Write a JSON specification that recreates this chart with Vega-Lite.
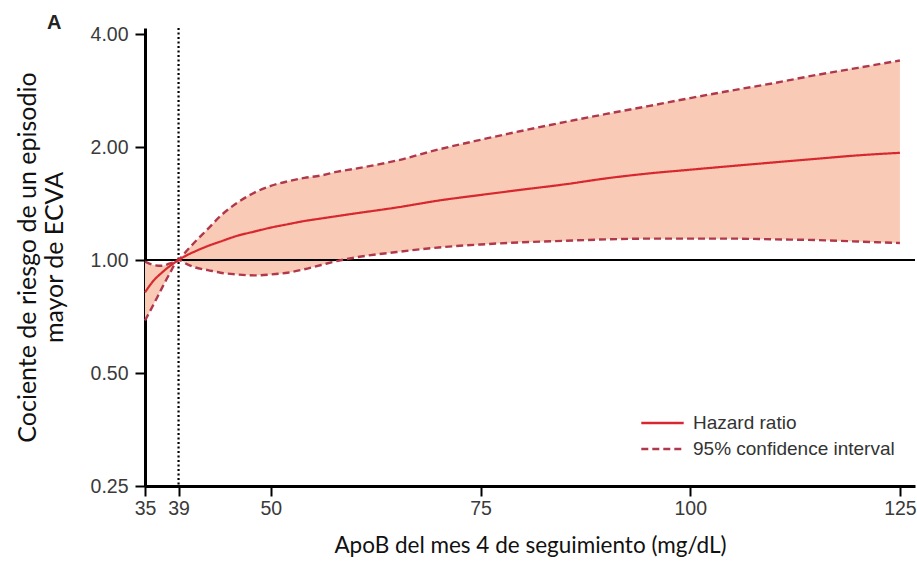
{
  "$schema": "https://vega.github.io/schema/vega-lite/v6.json",
  "width": 770,
  "height": 458,
  "autosize": {"type": "none"},
  "padding": {"left": 145, "top": 28, "right": 2, "bottom": 75},
  "background": "white",
  "title": {"text": "A", "anchor": "start", "frame": "group", "dx": -98, "offset": -9, "fontSize": 20, "fontWeight": "bold", "font": "Liberation Sans", "color": "#222222"},
  "config": {
    "view": {"stroke": null},
    "axis": {"grid": false, "domainColor": "black", "domainWidth": 3, "tickColor": "black", "tickWidth": 2, "tickSize": 10, "labelFont": "Liberation Sans", "labelFontSize": 19.5, "labelColor": "#3a3a3a", "titleFont": "Lato", "titleFontSize": 22.5, "titleFontWeight": "normal", "titleColor": "#111111", "labelFlush": false, "labelOverlap": false}
  },
  "datasets": {
    "curve": [
      {"x": 35, "hr": 0.82, "lo": 0.69, "hi": 0.99},
      {"x": 36, "hr": 0.88, "lo": 0.76, "hi": 0.97},
      {"x": 37, "hr": 0.925, "lo": 0.84, "hi": 0.965},
      {"x": 38, "hr": 0.965, "lo": 0.925, "hi": 0.98},
      {"x": 39, "hr": 1.0, "lo": 1.0, "hi": 1.0},
      {"x": 40, "hr": 1.03, "lo": 0.975, "hi": 1.06},
      {"x": 41, "hr": 1.055, "lo": 0.955, "hi": 1.12},
      {"x": 42.5, "hr": 1.09, "lo": 0.94, "hi": 1.21},
      {"x": 44, "hr": 1.12, "lo": 0.925, "hi": 1.31},
      {"x": 46, "hr": 1.16, "lo": 0.915, "hi": 1.42},
      {"x": 48, "hr": 1.19, "lo": 0.91, "hi": 1.51},
      {"x": 50, "hr": 1.22, "lo": 0.915, "hi": 1.575},
      {"x": 52, "hr": 1.245, "lo": 0.925, "hi": 1.62},
      {"x": 54, "hr": 1.27, "lo": 0.945, "hi": 1.655},
      {"x": 56, "hr": 1.29, "lo": 0.97, "hi": 1.68},
      {"x": 58, "hr": 1.31, "lo": 0.995, "hi": 1.72},
      {"x": 60, "hr": 1.33, "lo": 1.015, "hi": 1.75},
      {"x": 65, "hr": 1.38, "lo": 1.05, "hi": 1.84},
      {"x": 70, "hr": 1.44, "lo": 1.08, "hi": 1.97},
      {"x": 75, "hr": 1.49, "lo": 1.10, "hi": 2.09},
      {"x": 80, "hr": 1.54, "lo": 1.115, "hi": 2.21},
      {"x": 85, "hr": 1.59, "lo": 1.125, "hi": 2.33},
      {"x": 90, "hr": 1.65, "lo": 1.135, "hi": 2.45},
      {"x": 95, "hr": 1.70, "lo": 1.14, "hi": 2.57},
      {"x": 100, "hr": 1.74, "lo": 1.14, "hi": 2.70},
      {"x": 105, "hr": 1.78, "lo": 1.14, "hi": 2.83},
      {"x": 110, "hr": 1.82, "lo": 1.135, "hi": 2.96},
      {"x": 115, "hr": 1.86, "lo": 1.13, "hi": 3.11},
      {"x": 120, "hr": 1.90, "lo": 1.12, "hi": 3.25},
      {"x": 125, "hr": 1.93, "lo": 1.11, "hi": 3.40}
    ],
    "refs": [{"xref": 39, "yref": 1}]
  },
  "layer": [
    {"data": {"name": "curve"},
     "mark": {"type": "area", "color": "#f9cbb6", "opacity": 1, "interpolate": "monotone"},
     "encoding": {
       "x": {"field": "x", "type": "quantitative", "scale": {"domain": [35, 126.8], "nice": false, "zero": false},
         "axis": {"values": [35, 39, 50, 75, 100, 125], "title": "ApoB del mes 4 de seguimiento (mg/dL)", "labelPadding": 3, "titlePadding": 17}},
       "y": {"field": "lo", "type": "quantitative",
         "scale": {"type": "log", "base": 2, "domain": [0.25, 4.15], "nice": false, "zero": false},
         "axis": {"values": [0.25, 0.5, 1, 2, 4], "format": ".2f", "title": ["Cociente de riesgo de un episodio", "mayor de ECVA"], "titleFontSize": 25, "labelPadding": 7, "titlePadding": 23, "titleLineHeight": 27}},
       "y2": {"field": "hi"}
     }},
    {"data": {"name": "refs"},
     "mark": {"type": "rule", "color": "black", "strokeWidth": 2.2},
     "encoding": {"y": {"field": "yref", "type": "quantitative"}}},
    {"data": {"name": "refs"},
     "mark": {"type": "rule", "color": "black", "strokeWidth": 2.2, "strokeDash": [2, 2.5]},
     "encoding": {"x": {"field": "xref", "type": "quantitative"}}},
    {"data": {"name": "curve"},
     "mark": {"type": "line", "strokeWidth": 2.4, "interpolate": "monotone"},
     "encoding": {
       "x": {"field": "x", "type": "quantitative"},
       "y": {"field": "lo", "type": "quantitative"},
       "color": {"datum": "95% confidence interval"},
       "strokeDash": {"datum": "95% confidence interval"}
     }},
    {"data": {"name": "curve"},
     "mark": {"type": "line", "strokeWidth": 2.4, "interpolate": "monotone"},
     "encoding": {
       "x": {"field": "x", "type": "quantitative"},
       "y": {"field": "hi", "type": "quantitative"},
       "color": {"datum": "95% confidence interval"},
       "strokeDash": {"datum": "95% confidence interval"}
     }},
    {"data": {"name": "curve"},
     "mark": {"type": "line", "strokeWidth": 2.2, "interpolate": "monotone"},
     "encoding": {
       "x": {"field": "x", "type": "quantitative"},
       "y": {"field": "hr", "type": "quantitative"},
       "color": {"datum": "Hazard ratio", "type": "nominal",
         "scale": {"domain": ["Hazard ratio", "95% confidence interval"], "range": ["#d7282f", "#b0384c"]},
         "legend": {"title": null, "orient": "none", "legendX": 495, "legendY": 384, "symbolType": "stroke", "symbolSize": 1800, "symbolStrokeWidth": 2.5, "clipHeight": 22, "rowPadding": 4, "labelFont": "Liberation Sans", "labelFontSize": 19, "labelColor": "#333333", "labelOffset": 8, "labelLimit": 400}},
       "strokeDash": {"datum": "Hazard ratio", "type": "nominal",
         "scale": {"domain": ["Hazard ratio", "95% confidence interval"], "range": [[1, 0], [7, 4]]},
         "legend": {"title": null, "orient": "none", "legendX": 495, "legendY": 384, "symbolType": "stroke", "symbolSize": 1800, "symbolStrokeWidth": 2.5, "clipHeight": 22, "rowPadding": 4, "labelFont": "Liberation Sans", "labelFontSize": 19, "labelColor": "#333333", "labelOffset": 8, "labelLimit": 400}}
     }}
  ]
}
